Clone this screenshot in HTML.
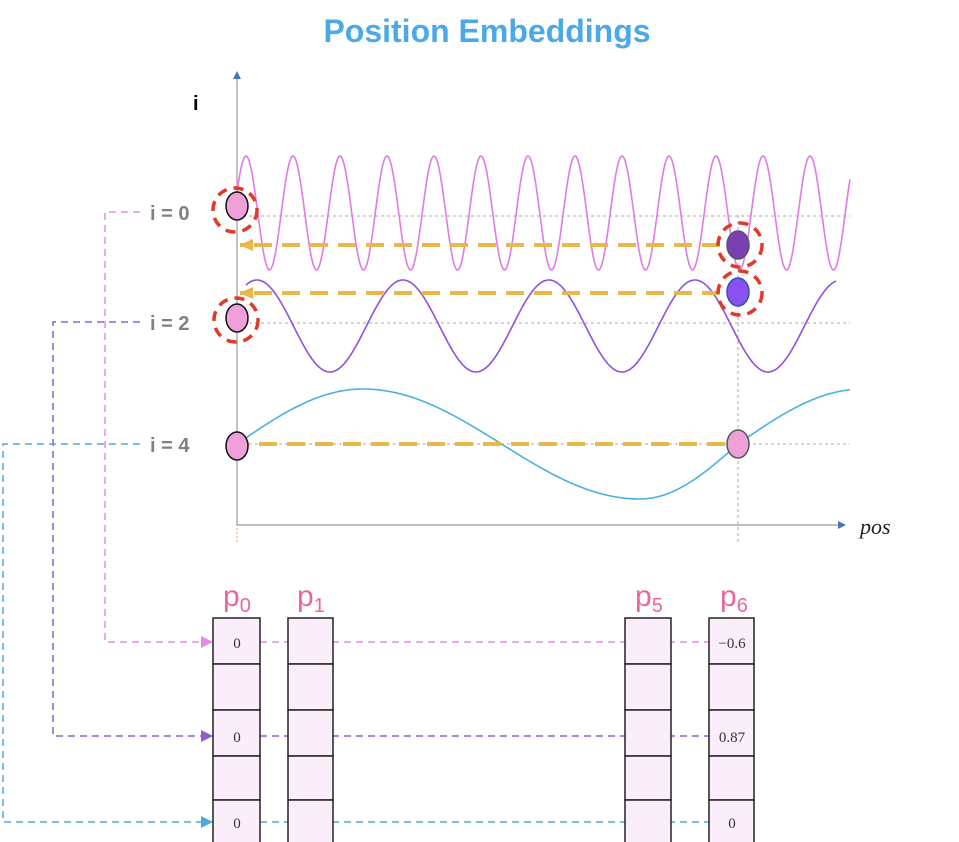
<!DOCTYPE html>
<html><head><meta charset="utf-8"><style>body{margin:0;background:#fff}svg{display:block}</style></head><body>
<svg width="959" height="842" viewBox="0 0 959 842" xmlns="http://www.w3.org/2000/svg" font-family="Liberation Sans, sans-serif">
<defs>
<marker id="ab" markerWidth="8" markerHeight="8" refX="7" refY="4" orient="auto" markerUnits="userSpaceOnUse"><path d="M0,0 L8,4 L0,8z" fill="#4472c4"/></marker>
<marker id="ay" markerWidth="14" markerHeight="12" refX="13" refY="6" orient="auto" markerUnits="userSpaceOnUse"><path d="M0,0 L14,6 L0,12z" fill="#e8b84a"/></marker>
<marker id="ap" markerWidth="12" markerHeight="12" refX="11" refY="6" orient="auto" markerUnits="userSpaceOnUse"><path d="M0,0 L12,6 L0,12z" fill="#e58be8"/></marker>
<marker id="au" markerWidth="12" markerHeight="12" refX="11" refY="6" orient="auto" markerUnits="userSpaceOnUse"><path d="M0,0 L12,6 L0,12z" fill="#8a5fd0"/></marker>
<marker id="ac" markerWidth="12" markerHeight="12" refX="11" refY="6" orient="auto" markerUnits="userSpaceOnUse"><path d="M0,0 L12,6 L0,12z" fill="#4ea8dc"/></marker>
</defs>
<text x="487" y="42" text-anchor="middle" font-size="32" font-weight="bold" fill="#4aa9e6">Position Embeddings</text>
<text x="193" y="110" font-size="20" font-weight="bold" fill="#000">i</text>
<g font-size="20" font-weight="bold" fill="#808080"><text x="150" y="220">i = 0</text><text x="150" y="330">i = 2</text><text x="150" y="452">i = 4</text></g>
<g stroke="#aaa" stroke-dasharray="3,3" stroke-width="1"><line x1="237" y1="216" x2="850" y2="216"/><line x1="237" y1="323" x2="850" y2="323"/><line x1="237" y1="444" x2="850" y2="444"/><line x1="738" y1="215" x2="738" y2="542"/></g>
<line x1="237" y1="200" x2="237" y2="542" stroke="#e0a060" stroke-dasharray="2,2"/>
<line x1="237" y1="525" x2="237" y2="72" stroke="#999" stroke-width="1.2" marker-end="url(#ab)"/>
<line x1="237" y1="525" x2="845" y2="525" stroke="#999" stroke-width="1.2" marker-end="url(#ab)"/>
<text x="860" y="534" font-size="22" font-style="italic" font-family="Liberation Serif, serif" fill="#222">pos</text>
<path id="w1" fill="none" stroke="#e07ae6" stroke-width="1.6" d=""/>
<path id="w2" fill="none" stroke="#9050e0" stroke-width="1.6" d=""/>
<path id="w3" fill="none" stroke="#4ab0e0" stroke-width="1.6" d=""/>
<script>
function mk(id,f,a,b){let d='';for(let x=a;x<=b;x+=1){d+=(x==a?'M':'L')+x+','+f(x).toFixed(1)+' ';}document.getElementById(id).setAttribute('d',d);}
mk('w1',x=>213-57*Math.sin(2*Math.PI*(x-238)/47+0.5),237,850);
mk('w2',x=>326-46*Math.sin(2*Math.PI*(x-246)/146+1.1),246,836);
mk('w3',x=>{let t=(x-237);let p=t<126?t/126*0.25:(t<403?0.25+(t-126)/277*0.5:(t<501?0.75+(t-403)/98*0.25:1+(t-501)/125*0.25));return 444-55*Math.sin(2*Math.PI*p);},237,850);
</script>
<g stroke="#e8b84a" stroke-width="4" stroke-dasharray="18,10" fill="none">
<line x1="720" y1="245" x2="240" y2="245" marker-end="url(#ay)"/>
<line x1="720" y1="293" x2="240" y2="293" marker-end="url(#ay)"/>
<line x1="725" y1="444" x2="248" y2="444"/>
</g>
<g stroke="#111" stroke-width="1.5">
<ellipse cx="237" cy="206" rx="11" ry="14" fill="#f0a0d8"/>
<ellipse cx="237" cy="318" rx="11" ry="14" fill="#f0a0d8"/>
<ellipse cx="237" cy="446" rx="11" ry="14" fill="#f0a0d8"/>
<ellipse cx="738" cy="444" rx="11" ry="14" fill="#f0a0d8" stroke="#556"/>
<ellipse cx="738" cy="245" rx="11" ry="14" fill="#7a3fb3" stroke="#556"/>
<ellipse cx="738" cy="292" rx="11" ry="14" fill="#8a50f0" stroke="#3050c0"/>
</g>
<g stroke="#e03a2a" stroke-width="3.5" stroke-dasharray="10,7" fill="none">
<circle cx="235" cy="210" r="22"/><circle cx="236" cy="320" r="22"/><circle cx="740" cy="245" r="22"/><circle cx="740" cy="293" r="22"/>
</g>
<g fill="none" stroke-width="1.5" stroke-dasharray="7,5">
<path d="M140,212 H105 V642 H212" stroke="#e58be8" marker-end="url(#ap)"/>
<path d="M140,322 H53 V736 H212" stroke="#8a5fd0" marker-end="url(#au)"/>
<path d="M140,444 H3 V822 H212" stroke="#4ea8dc" marker-end="url(#ac)"/>
<line x1="260" y1="642" x2="709" y2="642" stroke="#e58be8"/>
<line x1="260" y1="736" x2="709" y2="736" stroke="#8a5fd0"/>
<line x1="260" y1="822" x2="709" y2="822" stroke="#4ea8dc"/>
</g>
<g stroke="#222" stroke-width="1.5" fill="#fbeefb">
<rect x="213" y="618" width="47" height="46"/><rect x="213" y="664" width="47" height="46"/><rect x="213" y="710" width="47" height="46"/><rect x="213" y="756" width="47" height="44"/><rect x="213" y="800" width="47" height="44"/>
<rect x="288" y="618" width="45" height="46"/><rect x="288" y="664" width="45" height="46"/><rect x="288" y="710" width="45" height="46"/><rect x="288" y="756" width="45" height="44"/><rect x="288" y="800" width="45" height="44"/>
<rect x="625" y="618" width="46" height="46"/><rect x="625" y="664" width="46" height="46"/><rect x="625" y="710" width="46" height="46"/><rect x="625" y="756" width="46" height="44"/><rect x="625" y="800" width="46" height="44"/>
<rect x="709" y="618" width="45" height="46"/><rect x="709" y="664" width="45" height="46"/><rect x="709" y="710" width="45" height="46"/><rect x="709" y="756" width="45" height="44"/><rect x="709" y="800" width="45" height="44"/>
</g>
<g font-family="Liberation Serif, serif" font-size="15" fill="#333" text-anchor="middle">
<text x="237" y="648">0</text><text x="237" y="742">0</text><text x="237" y="828">0</text>
<text x="732" y="648">−0.6</text><text x="732" y="742">0.87</text><text x="732" y="828">0</text>
</g>
<g font-size="30" fill="#e9679e">
<text x="223" y="606">p<tspan font-size="20" dy="6">0</tspan></text>
<text x="297" y="606">p<tspan font-size="20" dy="6">1</tspan></text>
<text x="635" y="606">p<tspan font-size="20" dy="6">5</tspan></text>
<text x="720" y="606">p<tspan font-size="20" dy="6">6</tspan></text>
</g>
</svg>
</body></html>
